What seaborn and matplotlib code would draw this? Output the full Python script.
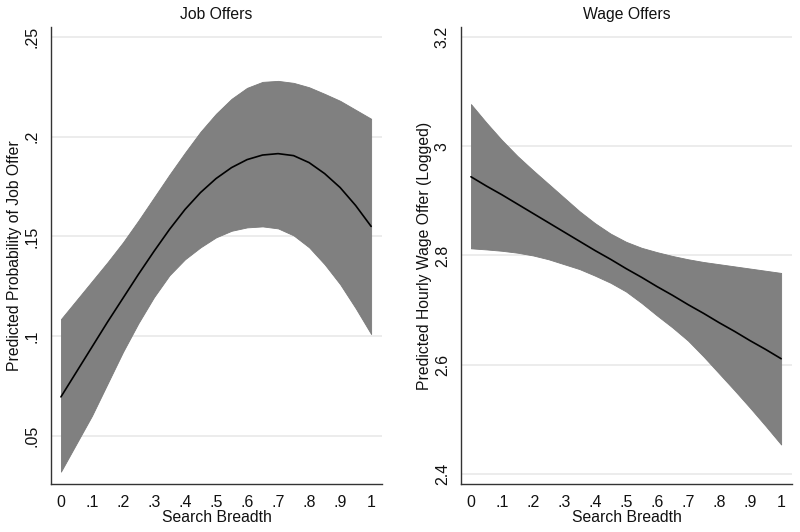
import numpy as np
import pandas as pd
import matplotlib
matplotlib.use("Agg")
import matplotlib.pyplot as plt
import seaborn as sns

# Search breadth grid
breadth = [0.0, 0.05, 0.1, 0.15, 0.2, 0.25, 0.3, 0.35, 0.4, 0.45, 0.5,
           0.55, 0.6, 0.65, 0.7, 0.75, 0.8, 0.85, 0.9, 0.95, 1.0]

# Job offers: predicted probability and 95% CI
job_mean = [0.0695, 0.082, 0.0945, 0.107, 0.119, 0.131, 0.1425, 0.1535, 0.1635, 0.172, 0.179,
            0.1845, 0.1885, 0.1908, 0.1915, 0.1905, 0.187, 0.1815, 0.1745, 0.1655, 0.155]
job_hi = [0.1085, 0.118, 0.1275, 0.137, 0.147, 0.158, 0.1695, 0.181, 0.192, 0.2025, 0.2115,
          0.219, 0.2245, 0.2275, 0.228, 0.227, 0.2248, 0.2215, 0.218, 0.2135, 0.209]
job_lo = [0.032, 0.046, 0.060, 0.076, 0.092, 0.1065, 0.1195, 0.1305, 0.1385, 0.1445, 0.1495,
          0.1528, 0.1545, 0.155, 0.154, 0.1505, 0.1445, 0.136, 0.126, 0.114, 0.101]

# Wage offers: predicted log hourly wage and 95% CI
wage_mean = [2.944, 2.927, 2.911, 2.894, 2.877, 2.860, 2.843, 2.826, 2.809, 2.793, 2.776,
             2.760, 2.743, 2.727, 2.710, 2.694, 2.677, 2.661, 2.644, 2.628, 2.611]
wage_hi = [3.077, 3.043, 3.011, 2.982, 2.956, 2.931, 2.906, 2.881, 2.859, 2.840, 2.825,
           2.814, 2.806, 2.799, 2.793, 2.788, 2.784, 2.780, 2.776, 2.772, 2.768]
wage_lo = [2.813, 2.811, 2.8085, 2.805, 2.800, 2.793, 2.784, 2.775, 2.763, 2.750, 2.734,
           2.713, 2.690, 2.668, 2.644, 2.615, 2.584, 2.553, 2.521, 2.488, 2.454]

x_ticks = [0, 0.1, 0.2, 0.3, 0.4, 0.5, 0.6, 0.7, 0.8, 0.9, 1.0]
x_labels = ["0", ".1", ".2", ".3", ".4", ".5", ".6", ".7", ".8", ".9", "1"]
job_ticks = [0.05, 0.1, 0.15, 0.2, 0.25]
job_labels = [".05", ".1", ".15", ".2", ".25"]
wage_ticks = [2.4, 2.6, 2.8, 3.0, 3.2]
wage_labels = ["2.4", "2.6", "2.8", "3", "3.2"]

df = pd.DataFrame({"breadth": breadth,
                   "job_mean": job_mean, "job_lo": job_lo, "job_hi": job_hi,
                   "wage_mean": wage_mean, "wage_lo": wage_lo, "wage_hi": wage_hi})

sns.set_style("white")
plt.rcParams["font.family"] = ["Liberation Sans", "DejaVu Sans"]
plt.rcParams["text.color"] = "#111111"
plt.rcParams["axes.labelcolor"] = "#111111"
plt.rcParams["xtick.color"] = "#111111"
plt.rcParams["ytick.color"] = "#111111"

fig = plt.figure(figsize=(8, 5.32), dpi=100)
ax1 = fig.add_axes([0.06375, 0.0902, 0.41375, 0.859])
ax2 = fig.add_axes([0.57625, 0.0902, 0.41375, 0.859])

panels = [
    (ax1, "job", "Job Offers", "Predicted Probability of Job Offer",
     job_ticks, job_labels, (0.0258, 0.2550)),
    (ax2, "wage", "Wage Offers", "Predicted Hourly Wage Offer (Logged)",
     wage_ticks, wage_labels, (2.3817, 3.218)),
]

for ax, key, title, ylabel, yt, ytl, ylim in panels:
    ax.fill_between(df["breadth"], df[key + "_lo"], df[key + "_hi"],
                    color="#808080", linewidth=0.6, edgecolor="#7a7a7a", zorder=2)
    sns.lineplot(data=df, x="breadth", y=key + "_mean", ax=ax,
                 color="black", linewidth=1.2, zorder=3)
    ax.set_xlim(-0.032, 1.035)
    ax.set_ylim(*ylim)
    ax.set_xticks(x_ticks)
    ax.set_xticklabels(x_labels)
    ax.set_yticks(yt)
    ax.set_yticklabels(ytl, rotation=90, va="center")
    ax.yaxis.grid(True, color="#ebebeb", linewidth=1.3, zorder=0)
    ax.xaxis.grid(False)
    ax.set_axisbelow(True)
    for side in ["top", "right"]:
        ax.spines[side].set_visible(False)
    for side in ["left", "bottom"]:
        ax.spines[side].set_color("#333333")
        ax.spines[side].set_linewidth(1.0)
    ax.tick_params(axis="both", direction="out", length=5, width=0.9,
                   color="#333333", labelsize=11.5, pad=3)
    ax.set_title(title, fontsize=11.3, pad=6)
    ax.set_xlabel("Search Breadth", fontsize=11.3, labelpad=0)
    ax.set_ylabel(ylabel, fontsize=11.3, labelpad=2)

fig.savefig("out.png", dpi=100)
